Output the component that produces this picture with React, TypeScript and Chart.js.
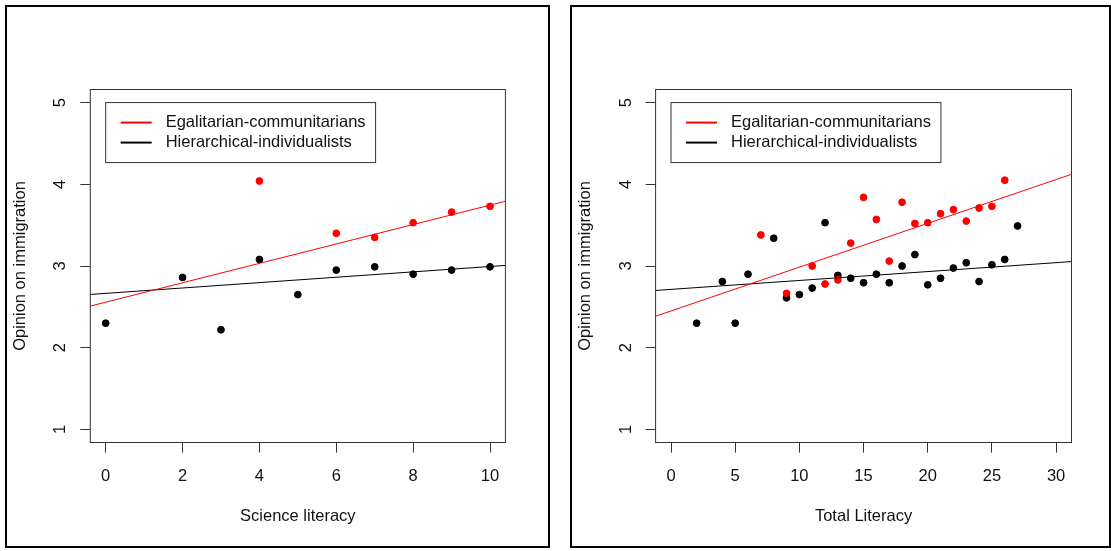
import React, { useEffect, useRef } from "react";
import { Chart, registerables } from "chart.js";

Chart.register(...registerables);

// ---- Data ----
const legendLabels = ["Egalitarian-communitarians", "Hierarchical-individualists"];
const legendColors = ["#ff0000", "#000000"];

const yTicks = [1, 2, 3, 4, 5];
const yRange = [0.84, 5.16];

// Left panel: Science literacy
const sciTicks = [0, 2, 4, 6, 8, 10];
const sciRange = [-0.4, 10.4];
const sciHierX = [0, 2, 3, 4, 5, 6, 7, 8, 9, 10];
const sciHierY = [2.3, 2.86, 2.22, 3.08, 2.65, 2.95, 2.99, 2.9, 2.95, 2.99];
const sciEgalX = [4, 6, 7, 8, 9, 10];
const sciEgalY = [4.04, 3.4, 3.35, 3.53, 3.66, 3.73];
const sciEgalFit = [2.557, 0.1188]; // intercept, slope
const sciHierFit = [2.665, 0.0329];

// Right panel: Total literacy
const totTicks = [0, 5, 10, 15, 20, 25, 30];
const totRange = [-1.2, 31.2];
const totHierX = [2, 4, 5, 6, 8, 9, 10, 11, 12, 13, 14, 15, 16, 17, 18, 19, 20, 21, 22, 23, 24, 25, 26, 27];
const totHierY = [2.3, 2.81, 2.3, 2.9, 3.34, 2.61, 2.65, 2.73, 3.53, 2.885, 2.85, 2.795, 2.9, 2.795, 3.0, 3.14, 2.77, 2.85, 2.975, 3.04, 2.81, 3.015, 3.08, 3.49];
const totEgalX = [7, 9, 11, 12, 13, 14, 15, 16, 17, 18, 19, 20, 21, 22, 23, 24, 25, 26];
const totEgalY = [3.38, 2.665, 3.0, 2.78, 2.83, 3.28, 3.84, 3.57, 3.06, 3.78, 3.52, 3.53, 3.64, 3.69, 3.55, 3.71, 3.73, 4.05];
const totEgalFit = [2.45, 0.0536];
const totHierFit = [2.714, 0.0109];

const FONT = "'Liberation Sans', Arial, sans-serif";
const FS = 16.5;
const AXIS_COLOR = "#333333";
const TEXT_COLOR = "#111111";

type PanelCfg = {
  xTitle: string;
  xTicks: number[];
  xRange: number[];
  hierX: number[];
  hierY: number[];
  egalX: number[];
  egalY: number[];
  egalFit: number[];
  hierFit: number[];
  canvasW: number;
  yWidth: number;
  padRight: number;
  yTitlePad: number;
  yTickPad: number;
};

function zip(xs: number[], ys: number[]) {
  return xs.map((x, i) => ({ x, y: ys[i] }));
}

function fitLine(fit: number[], range: number[]) {
  return range.map((x) => ({ x, y: fit[0] + fit[1] * x }));
}

const boxPlugin = {
  id: "rbox",
  afterDraw(chart: any) {
    const { ctx, chartArea } = chart;
    ctx.save();
    ctx.strokeStyle = AXIS_COLOR;
    ctx.lineWidth = 1;
    ctx.strokeRect(chartArea.left, chartArea.top, chartArea.right - chartArea.left, chartArea.bottom - chartArea.top);
    // legend at data (0, 5)
    const xs = chart.scales.x;
    const ys = chart.scales.y;
    const lx = xs.getPixelForValue(0);
    const ly = ys.getPixelForValue(5);
    ctx.font = `${FS}px ${FONT}`;
    let maxW = 0;
    legendLabels.forEach((l) => {
      maxW = Math.max(maxW, ctx.measureText(l).width);
    });
    const textOff = 60;
    const w = textOff + maxW + 10;
    const h = 60;
    ctx.fillStyle = "#ffffff";
    ctx.fillRect(lx, ly, w, h);
    ctx.strokeStyle = AXIS_COLOR;
    ctx.lineWidth = 1;
    ctx.strokeRect(lx, ly, w, h);
    legendLabels.forEach((l, i) => {
      const ry = ly + 20 + i * 20;
      ctx.strokeStyle = legendColors[i];
      ctx.lineWidth = 2;
      ctx.beginPath();
      ctx.moveTo(lx + 15, ry);
      ctx.lineTo(lx + 46, ry);
      ctx.stroke();
      ctx.fillStyle = TEXT_COLOR;
      ctx.textBaseline = "middle";
      ctx.textAlign = "left";
      ctx.fillText(l, lx + textOff, ry);
    });
    ctx.restore();
  },
};

function Panel({ cfg, left }: { cfg: PanelCfg; left: number }) {
  const ref = useRef<HTMLCanvasElement>(null);
  useEffect(() => {
    if (!ref.current) return;
    const chart = new Chart(ref.current, {
      type: "scatter",
      data: {
        datasets: [
          {
            type: "line",
            data: fitLine(cfg.egalFit, cfg.xRange),
            borderColor: "#ff0000",
            borderWidth: 1,
            pointRadius: 0,
            fill: false,
          } as any,
          {
            type: "line",
            data: fitLine(cfg.hierFit, cfg.xRange),
            borderColor: "#000000",
            borderWidth: 1,
            pointRadius: 0,
            fill: false,
          } as any,
          {
            data: zip(cfg.egalX, cfg.egalY),
            backgroundColor: "#ff0000",
            borderColor: "#ff0000",
            borderWidth: 1,
            pointRadius: 3.4,
          },
          {
            data: zip(cfg.hierX, cfg.hierY),
            backgroundColor: "#000000",
            borderColor: "#000000",
            borderWidth: 1,
            pointRadius: 3.4,
          },
        ],
      },
      options: {
        animation: false,
        responsive: false,
        maintainAspectRatio: false,
        devicePixelRatio: 1,
        layout: { padding: { left: 0, top: 89.5, right: cfg.padRight, bottom: 0 } },
        plugins: { legend: { display: false }, tooltip: { enabled: false } },
        scales: {
          x: {
            type: "linear",
            min: cfg.xRange[0],
            max: cfg.xRange[1],
            afterBuildTicks: (s: any) => {
              s.ticks = cfg.xTicks.map((v) => ({ value: v }));
            },
            afterFit: (s: any) => {
              s.height = 551 - 442.5;
            },
            border: { display: false },
            grid: { display: true, drawOnChartArea: false, drawTicks: true, tickLength: 10, color: AXIS_COLOR },
            ticks: { autoSkip: false, maxRotation: 0, padding: 14.5, color: TEXT_COLOR, font: { family: FONT, size: FS } },
            title: { display: true, text: cfg.xTitle, color: TEXT_COLOR, font: { family: FONT, size: FS }, padding: { top: 0, bottom: 25 } },
          },
          y: {
            type: "linear",
            min: yRange[0],
            max: yRange[1],
            afterBuildTicks: (s: any) => {
              s.ticks = yTicks.map((v) => ({ value: v }));
            },
            afterFit: (s: any) => {
              s.width = cfg.yWidth;
            },
            border: { display: false },
            grid: { display: true, drawOnChartArea: false, drawTicks: true, tickLength: 10, color: AXIS_COLOR },
            ticks: {
              autoSkip: false,
              minRotation: 90,
              maxRotation: 90,
              crossAlign: "center",
              padding: cfg.yTickPad,
              color: TEXT_COLOR,
              font: { family: FONT, size: FS },
            },
            title: { display: true, text: "Opinion on immigration", color: TEXT_COLOR, font: { family: FONT, size: FS }, padding: { top: cfg.yTitlePad, bottom: 0 } },
          },
        },
      },
      plugins: [boxPlugin],
    } as any);
    return () => chart.destroy();
  }, [cfg]);
  return (
    <canvas
      ref={ref}
      width={cfg.canvasW}
      height={551}
      style={{ position: "absolute", left, top: 0, width: cfg.canvasW, height: 551 }}
    />
  );
}

const leftCfg: PanelCfg = {
  xTitle: "Science literacy",
  xTicks: sciTicks,
  xRange: sciRange,
  hierX: sciHierX,
  hierY: sciHierY,
  egalX: sciEgalX,
  egalY: sciEgalY,
  egalFit: sciEgalFit,
  hierFit: sciHierFit,
  canvasW: 560,
  yWidth: 90.3,
  padRight: 560 - 505.4,
  yTitlePad: 10.4,
  yTickPad: 15,
};

const rightCfg: PanelCfg = {
  xTitle: "Total Literacy",
  xTicks: totTicks,
  xRange: totRange,
  hierX: totHierX,
  hierY: totHierY,
  egalX: totEgalX,
  egalY: totEgalY,
  egalFit: totEgalFit,
  hierFit: totHierFit,
  canvasW: 551,
  yWidth: 95.6,
  padRight: 551 - 511.5,
  yTitlePad: 16,
  yTickPad: 15,
};

export default function App() {
  useEffect(() => {
    document.body.style.margin = "0";
  }, []);
  return (
    <div style={{ position: "absolute", left: 0, top: 0, width: 1111, height: 551, background: "#ffffff", overflow: "hidden" }}>
      <div style={{ position: "absolute", left: 5, top: 5, width: 545, height: 543, border: "2px solid #000", boxSizing: "border-box" }} />
      <div style={{ position: "absolute", left: 570, top: 5, width: 541, height: 543, border: "2px solid #000", boxSizing: "border-box" }} />
      <Panel cfg={leftCfg} left={0} />
      <Panel cfg={rightCfg} left={560} />
    </div>
  );
}
